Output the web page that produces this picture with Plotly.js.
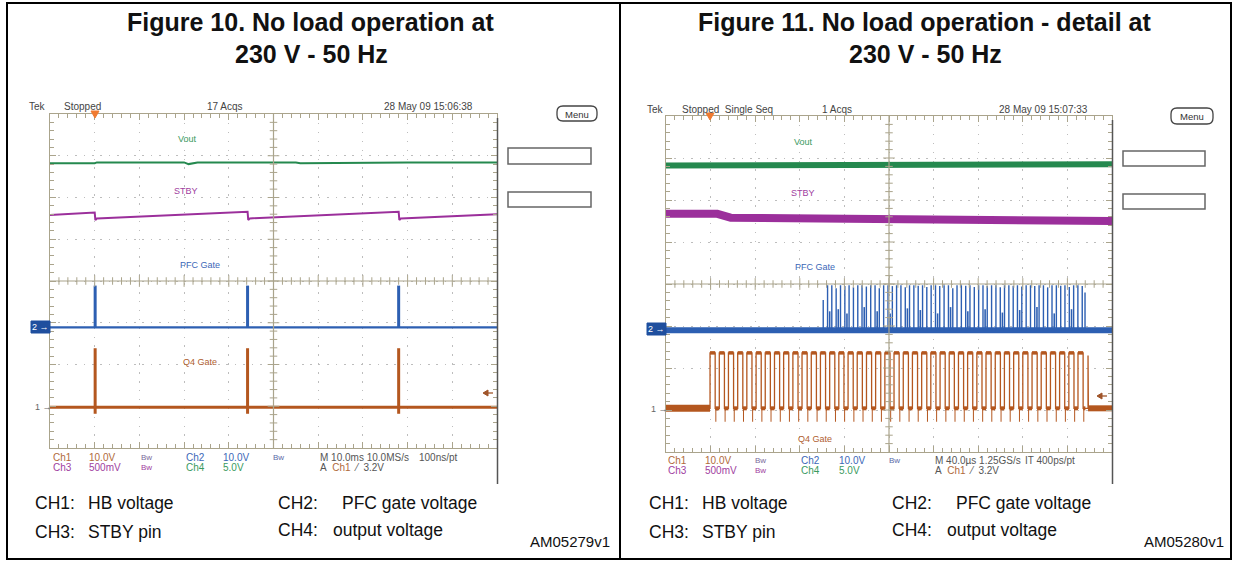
<!DOCTYPE html>
<html><head><meta charset="utf-8">
<script src="https://cdn.plot.ly/plotly-3.0.1.min.js"></script>
<style>html,body{margin:0;padding:0;background:#fff;}#chart{width:1234px;height:561px;}</style>
</head><body><div id="chart"></div>
<script>
// ================= DATA (time, amplitude in screen divisions) =================
// Figure 10 : 10 ms/div, time in ms
const f10VoutT = [0, 10, 10.5, 30, 31, 33, 55, 56, 80, 100];
const f10VoutV = [6.82, 6.82, 6.84, 6.84, 6.80, 6.84, 6.84, 6.82, 6.84, 6.84];
const f10StbyT = [0, 10.0, 10.15, 10.5, 44.2, 44.35, 44.7, 78.0, 78.15, 78.5, 100];
const f10StbyV = [5.58, 5.64, 5.46, 5.50, 5.66, 5.46, 5.50, 5.66, 5.46, 5.50, 5.60];
const f10BurstT = [10.1, 44.2, 78.0];
const f10PfcBase = 2.89, f10PfcPeak = [3.89, 3.89, 3.89];
const f10Q4Base = 0.975, f10Q4Peak = [2.39, 2.39, 2.39], f10Q4Dip = [0.82, 0.82, 0.82];

// Figure 11 : 40 us/div, time in us
const f11VoutT = [0, 100, 200, 300, 400];
const f11VoutV = [6.82, 6.83, 6.84, 6.84, 6.85];
const f11StbyT = [0, 46, 58, 100, 200, 300, 400];
const f11StbyV = [5.67, 5.67, 5.58, 5.57, 5.55, 5.53, 5.50];
const f11PfcBase = 2.9;
const f11PfcT = [141.0,144.9,148.7,152.6,156.5,160.4,164.2,168.1,172.0,175.8,179.7,183.6,187.5,191.3,195.2,199.1,203.0,206.8,210.7,214.6,218.4,222.3,226.2,230.1,233.9,237.8,241.7,245.5,249.4,253.3,257.2,261.0,264.9,268.8,272.6,276.5,280.4,284.3,288.1,292.0,295.9,299.8,303.6,307.5,311.4,315.2,319.1,323.0,326.9,330.7,334.6,338.5,342.3,346.2,350.1,354.0,357.8,361.7,365.6,369.4,373.3,375.8];
const f11PfcV = [3.62,3.97,3.97,3.90,3.97,3.95,3.97,3.92,3.97,3.97,3.94,3.97,3.97,3.90,3.97,3.97,3.95,3.97,3.97,3.92,3.97,3.97,3.96,3.97,3.93,3.97,3.97,3.95,3.97,3.97,3.90,3.97,3.97,3.96,3.97,3.93,3.97,3.97,3.95,3.97,3.97,3.92,3.97,3.97,3.96,3.97,3.94,3.97,3.97,3.95,3.97,3.97,3.92,3.97,3.97,3.96,3.97,3.93,3.97,3.97,3.95,3.80];
const f11PfcMinorT = [146.8,154.5,162.3,177.8,189.4,201.0,216.5,228.1,243.6,255.2,270.7,286.2,301.7,317.2,332.7,348.2,363.7];
const f11PfcMinorV = [3.35,3.40,3.30,3.45,3.35,3.30,3.42,3.38,3.30,3.45,3.35,3.40,3.32,3.38,3.45,3.30,3.40];
const f11Q4Base = 1.04, f11Q4High = 2.36, f11Q4Under = 0.72;
const f11Q4Rise = [39.5,47.8,56.0,64.3,72.5,80.8,89.0,97.3,105.5,113.8,122.0,130.3,138.5,146.8,155.0,163.3,171.5,179.8,188.0,196.3,204.5,212.8,221.0,229.3,237.5,245.8,254.0,262.3,270.5,278.8,287.0,295.3,303.5,311.8,320.0,328.3,336.5,344.8,353.0,361.3,369.5];
const f11Q4Width = 4.6;
const f11Q4TailSpikeT = 378.5, f11Q4TailSpikeV = 2.3;

// ================= STYLE =================
const W = 1234, H = 561;
const C = {vout:'#25894f', stby:'#9b2f9b', pfc:'#2d5fb2', q4:'#b4571f', grat:'#aaa48c', dot:'#bdbdbd', txt:'#555'};
const SCOPE = '"Liberation Sans Narrow", "Arial Narrow", "Liberation Sans", Arial, sans-serif';
const SANS = '"Liberation Sans", Arial, sans-serif';
const px = x => x / W, py = y => 1 - y / H;

function vsegs(ts, lo, hi) {
  const x = [], y = [];
  ts.forEach((t, i) => { x.push(t, t, null); y.push(Array.isArray(lo) ? lo[i] : lo, Array.isArray(hi) ? hi[i] : hi, null); });
  return {x, y};
}

const traces = [];
// ---- Figure 10 traces ----
traces.push({x: f10VoutT, y: f10VoutV, xaxis:'x', yaxis:'y', mode:'lines', line:{color:C.vout, width:2}});
traces.push({x: f10StbyT, y: f10StbyV, xaxis:'x', yaxis:'y', mode:'lines', line:{color:C.stby, width:2}});
traces.push({x:[0,100], y:[f10PfcBase,f10PfcBase], xaxis:'x', yaxis:'y', mode:'lines', line:{color:C.pfc, width:2.2}});
let s = vsegs(f10BurstT, f10PfcBase, f10PfcPeak);
traces.push({x:s.x, y:s.y, xaxis:'x', yaxis:'y', mode:'lines', line:{color:C.pfc, width:3}});
traces.push({x:[0,100], y:[f10Q4Base,f10Q4Base], xaxis:'x', yaxis:'y', mode:'lines', line:{color:C.q4, width:3}});
s = vsegs(f10BurstT, f10Q4Dip, f10Q4Peak);
traces.push({x:s.x, y:s.y, xaxis:'x', yaxis:'y', mode:'lines', line:{color:C.q4, width:3}});

// ---- Figure 11 traces ----
traces.push({x: f11VoutT, y: f11VoutV, xaxis:'x2', yaxis:'y2', mode:'lines', line:{color:C.vout, width:6}});
traces.push({x: f11StbyT, y: f11StbyV, xaxis:'x2', yaxis:'y2', mode:'lines', line:{color:C.stby, width:8}});
traces.push({x:[0,400], y:[f11PfcBase,f11PfcBase], xaxis:'x2', yaxis:'y2', mode:'lines', line:{color:C.pfc, width:6}});
s = vsegs(f11PfcT, f11PfcBase, f11PfcV);
traces.push({x:s.x, y:s.y, xaxis:'x2', yaxis:'y2', mode:'lines', line:{color:C.pfc, width:1.4}});
s = vsegs(f11PfcMinorT, f11PfcBase, f11PfcMinorV);
traces.push({x:s.x, y:s.y, xaxis:'x2', yaxis:'y2', mode:'lines', line:{color:C.pfc, width:1.6}});
// Q4 square wave
{
  const x = [0], y = [f11Q4Base];
  const hx = [], hy = [], lx = [], ly = [], ux = [], uy = [];
  f11Q4Rise.forEach((r, i) => {
    const f = r + f11Q4Width;
    x.push(r, r, f, f); y.push(f11Q4Base, f11Q4High, f11Q4High, f11Q4Base);
    hx.push(r, f, null); hy.push(f11Q4High, f11Q4High, null);
    const next = i + 1 < f11Q4Rise.length ? f11Q4Rise[i + 1] : f + 2;
    lx.push(f, next, null); ly.push(f11Q4Base, f11Q4Base, null);
    ux.push(f + 0.6, f + 0.6, null); uy.push(f11Q4Base, f11Q4Under, null);
  });
  x.push(f11Q4TailSpikeT, f11Q4TailSpikeT, f11Q4TailSpikeT + 0.3, 400);
  y.push(f11Q4Base, f11Q4TailSpikeV, f11Q4Base, f11Q4Base);
  traces.push({x:[0, f11Q4Rise[0]], y:[f11Q4Base, f11Q4Base], xaxis:'x2', yaxis:'y2', mode:'lines', line:{color:C.q4, width:7}});
  traces.push({x:[f11Q4TailSpikeT, 400], y:[f11Q4Base, f11Q4Base], xaxis:'x2', yaxis:'y2', mode:'lines', line:{color:C.q4, width:6}});
  traces.push({x, y, xaxis:'x2', yaxis:'y2', mode:'lines', line:{color:C.q4, width:1.3}});
  traces.push({x:hx, y:hy, xaxis:'x2', yaxis:'y2', mode:'lines', line:{color:C.q4, width:3.5}});
  traces.push({x:lx, y:ly, xaxis:'x2', yaxis:'y2', mode:'lines', line:{color:C.q4, width:4}});
  traces.push({x:ux, y:uy, xaxis:'x2', yaxis:'y2', mode:'lines', line:{color:C.q4, width:1}});
}

// ================= AXES (graticule) =================
function xAx(domain, range, dt, anchor) {
  return {domain, range, anchor, dtick:dt, tick0:0, showgrid:true, gridcolor:C.dot, griddash:'1.5px,7.4px', gridwidth:1,
    zeroline:false, showticklabels:false, ticks:'inside', ticklen:6, tickcolor:C.grat, tickwidth:1,
    showline:true, linecolor:C.grat, linewidth:1.3, mirror:'ticks',
    minor:{dtick:dt/5, tick0:0, ticks:'inside', ticklen:4, tickcolor:C.grat, showgrid:false}, fixedrange:true};
}
function yAx(domain, anchor) {
  return {domain, range:[0,8], anchor, dtick:1, tick0:0, showgrid:true, gridcolor:C.dot, griddash:'1.5px,6.9px', gridwidth:1,
    zeroline:false, showticklabels:false, ticks:'inside', ticklen:6, tickcolor:C.grat, tickwidth:1,
    showline:true, linecolor:C.grat, linewidth:1.3, mirror:'ticks',
    minor:{dtick:0.2, tick0:0, ticks:'inside', ticklen:4, tickcolor:C.grat, showgrid:false}, fixedrange:true};
}

const shapes = [];
function crosshair(xr, yr, xmax) {
  const cx = xmax / 2;
  shapes.push({type:'line', xref:xr, yref:yr, x0:0, x1:xmax, y0:4, y1:4, line:{color:C.grat, width:1.2}});
  shapes.push({type:'line', xref:xr, yref:yr, x0:cx, x1:cx, y0:0, y1:8, line:{color:C.grat, width:1.2}});
  for (let i = 1; i < 50; i++) {
    const t = i * xmax / 50, h = (i % 5 === 0) ? 0.14 : 0.09;
    shapes.push({type:'line', xref:xr, yref:yr, x0:t, x1:t, y0:4 - h, y1:4 + h, line:{color:C.grat, width:1}});
  }
  for (let j = 1; j < 40; j++) {
    const v = j * 0.2, w = ((j % 5 === 0) ? 0.14 : 0.09) * xmax / 10 * (41.75 / 44.7);
    shapes.push({type:'line', xref:xr, yref:yr, x0:cx - w, x1:cx + w, y0:v, y1:v, line:{color:C.grat, width:1}});
  }
}
crosshair('x', 'y', 100);
crosshair('x2', 'y2', 400);

// figure frame
shapes.push({type:'rect', xref:'paper', yref:'paper', x0:px(7), x1:px(1231), y0:py(559), y1:py(3), line:{color:'#000', width:2}});
shapes.push({type:'line', xref:'paper', yref:'paper', x0:px(620), x1:px(620), y0:py(559), y1:py(3), line:{color:'#000', width:2}});
// scope screen right edges
shapes.push({type:'line', xref:'paper', yref:'paper', x0:px(497.5), x1:px(497.5), y0:py(484), y1:py(118), line:{color:'#555', width:1.5}});
shapes.push({type:'line', xref:'paper', yref:'paper', x0:px(1112.5), x1:px(1112.5), y0:py(484), y1:py(120), line:{color:'#555', width:1.5}});
// side boxes
function rectPx(x0, y0, x1, y1, col, fill, w) {
  shapes.push({type:'rect', xref:'paper', yref:'paper', x0:px(x0), x1:px(x1), y0:py(y1), y1:py(y0), line:{color:col, width:w || 1.5}, fillcolor:fill || 'rgba(0,0,0,0)'});
}
rectPx(508, 148, 591, 164, '#666');
rectPx(508, 192, 591, 207, '#666');
rectPx(1123, 151, 1205, 166, '#666');
rectPx(1123, 194, 1205, 209, '#666');
// Menu buttons (rounded)
function roundRect(x0, y0, x1, y1, r) {
  const X = v => px(v), Y = v => py(v);
  return {type:'path', xref:'paper', yref:'paper', line:{color:'#444', width:1.3},
    path:`M ${X(x0 + r)} ${Y(y0)} L ${X(x1 - r)} ${Y(y0)} Q ${X(x1)} ${Y(y0)} ${X(x1)} ${Y(y0 + r)} L ${X(x1)} ${Y(y1 - r)} Q ${X(x1)} ${Y(y1)} ${X(x1 - r)} ${Y(y1)} L ${X(x0 + r)} ${Y(y1)} Q ${X(x0)} ${Y(y1)} ${X(x0)} ${Y(y1 - r)} L ${X(x0)} ${Y(y0 + r)} Q ${X(x0)} ${Y(y0)} ${X(x0 + r)} ${Y(y0)} Z`};
}
shapes.push(roundRect(557, 106, 597, 121, 6));
shapes.push(roundRect(1171, 108, 1213, 124, 6));
// trigger position markers
function tri(x, y) {
  return {type:'path', xref:'paper', yref:'paper', fillcolor:'#f07a30', line:{color:'#f07a30', width:1},
    path:`M ${px(x - 4)} ${py(y - 6)} L ${px(x + 4)} ${py(y - 6)} L ${px(x)} ${py(y + 1)} Z`};
}
shapes.push(tri(95, 117));
shapes.push(tri(710, 119));
// channel 2 boxes
rectPx(31, 321, 50, 333, '#1f4f9e', '#1f4f9e', 1);
rectPx(647, 323, 666, 335, '#1f4f9e', '#1f4f9e', 1);
// trigger level arrows (Ch1 3.2V)
function lvlArrow(x, y) {
  shapes.push({type:'line', xref:'paper', yref:'paper', x0:px(x), x1:px(x + 9), y0:py(y), y1:py(y), line:{color:'#a0552a', width:1.3}});
  shapes.push({type:'path', xref:'paper', yref:'paper', fillcolor:'#a0552a', line:{color:'#a0552a', width:1},
    path:`M ${px(x - 1)} ${py(y)} L ${px(x + 4)} ${py(y - 3)} L ${px(x + 4)} ${py(y + 3)} Z`});
}
lvlArrow(484, 393);
lvlArrow(1098, 396);

// ================= TEXT =================
const ann = [];
function T(x, y, text, size, color, anchor, family, extra) {
  ann.push(Object.assign({xref:'paper', yref:'paper', x:px(x), y:py(y), text, showarrow:false,
    xanchor:anchor || 'center', yanchor:'middle', font:{family:family || SCOPE, size:size, color:color}}, extra || {}));
}
// titles
T(310, 22, '<b>Figure 10. No load operation at</b>', 25, '#111', 'center', SANS);
T(311, 54, '<b>230 V - 50 Hz</b>', 25, '#111', 'center', SANS);
T(925, 22, '<b>Figure 11. No load operation - detail at</b>', 25, '#111', 'center', SANS);
T(926, 54, '<b>230 V - 50 Hz</b>', 25, '#111', 'center', SANS);

// scope header rows
T(37, 107, 'Tek', 10, '#444');
T(82, 107, 'Stopped', 10, '#444');
T(225, 107, '17 Acqs', 10, '#444');
T(428, 107, '28 May 09 15:06:38', 10, '#444');
T(577, 114, 'Menu', 9.5, '#333');
T(655, 109, 'Tek', 10, '#444');
T(680, 109, 'Stopped\u00a0\u00a0Single Seq', 10, '#444', 'left');
T(837, 109, '1 Acqs', 10, '#444');
T(1043, 109, '28 May 09 15:07:33', 10, '#444');
T(1192, 116, 'Menu', 9.5, '#333');

// trace labels
T(187, 139, 'Vout', 9, '#3a9a60');
T(186, 191, 'STBY', 9, '#a040a0');
T(200, 265, 'PFC Gate', 9, '#3c68b8');
T(200, 362, 'Q4 Gate', 9, '#b06030');
T(803, 142, 'Vout', 9, '#3a9a60');
T(803, 193, 'STBY', 9, '#a040a0');
T(815, 267, 'PFC Gate', 9, '#3c68b8');
T(815, 439, 'Q4 Gate', 9, '#b06030');

// channel markers
T(40.5, 327, '2 \u2192', 9, '#fff');
T(656, 329, '2 \u2192', 9, '#fff');
T(43, 407, '1 \u2192', 9, '#666');
T(659, 409, '1 \u2192', 9, '#666');

// scope footers
function footer(y1, y2, mText, ptText, offs) {
  const [a, b, c, d, e, f, g, h] = offs;
  T(a, y1, 'Ch1', 10, '#b06a3a', 'left');
  T(b, y1, '10.0V', 10, '#b06a3a', 'left');
  T(c, y1, 'Bw', 8, '#7a6a9a', 'left');
  T(d, y1, 'Ch2', 10, '#3c68b8', 'left');
  T(e, y1, '10.0V', 10, '#3c68b8', 'left');
  T(f, y1, 'Bw', 8, '#5a6aa8', 'left');
  T(g, y1, mText, 10, '#555', 'left');
  T(h, y1, ptText, 10, '#555', 'left');
  T(a, y2, 'Ch3', 10, '#a040a0', 'left');
  T(b, y2, '500mV', 10, '#a040a0', 'left');
  T(c, y2, 'Bw', 8, '#a040a0', 'left');
  T(d, y2, 'Ch4', 10, '#3a9a60', 'left');
  T(e, y2, '5.0V', 10, '#3a9a60', 'left');
  T(g, y2, 'A\u00a0\u00a0<span style="color:#b06a3a">Ch1</span>\u00a0\u00a0\u2044\u00a0\u00a03.2V', 10, '#555', 'left');
}
footer(457, 467, 'M 10.0ms 10.0MS/s', '100ns/pt', [51, 87, 139, 184, 221, 271, 318, 417]);
footer(460, 470, 'M 40.0\u00b5s 1.25GS/s', 'IT 400ps/pt', [666, 703, 753, 799, 837, 887, 933, 1023]);

// captions
function captions(dx, code) {
  const fs = 17.5;
  T(33 + dx, 503, 'CH1:', fs, '#111', 'left', SANS);
  T(86 + dx, 503, 'HB voltage', fs, '#111', 'left', SANS);
  T(276 + dx, 503, 'CH2:', fs, '#111', 'left', SANS);
  T(340 + dx, 503, 'PFC gate voltage', fs, '#111', 'left', SANS);
  T(33 + dx, 532, 'CH3:', fs, '#111', 'left', SANS);
  T(86 + dx, 532, 'STBY pin', fs, '#111', 'left', SANS);
  T(276 + dx, 530, 'CH4:', fs, '#111', 'left', SANS);
  T(331 + dx, 530, 'output voltage', fs, '#111', 'left', SANS);
  T(612 + dx, 541, code, 15, '#111', 'right', SANS);
}
captions(0, 'AM05279v1');
captions(614, 'AM05280v1');

const layout = {
  width: W, height: H, margin:{l:0, r:0, t:0, b:0}, paper_bgcolor:'#fff', plot_bgcolor:'#fff',
  showlegend:false,
  xaxis: xAx([px(50), px(497)], [0, 100], 10, 'y'),
  yaxis: yAx([py(448), py(114)], 'x'),
  xaxis2: xAx([px(666), px(1112)], [0, 400], 40, 'y2'),
  yaxis2: yAx([py(452), py(116)], 'x2'),
  shapes, annotations: ann
};
Plotly.newPlot('chart', traces, layout, {staticPlot:true, displayModeBar:false});
</script></body></html>
